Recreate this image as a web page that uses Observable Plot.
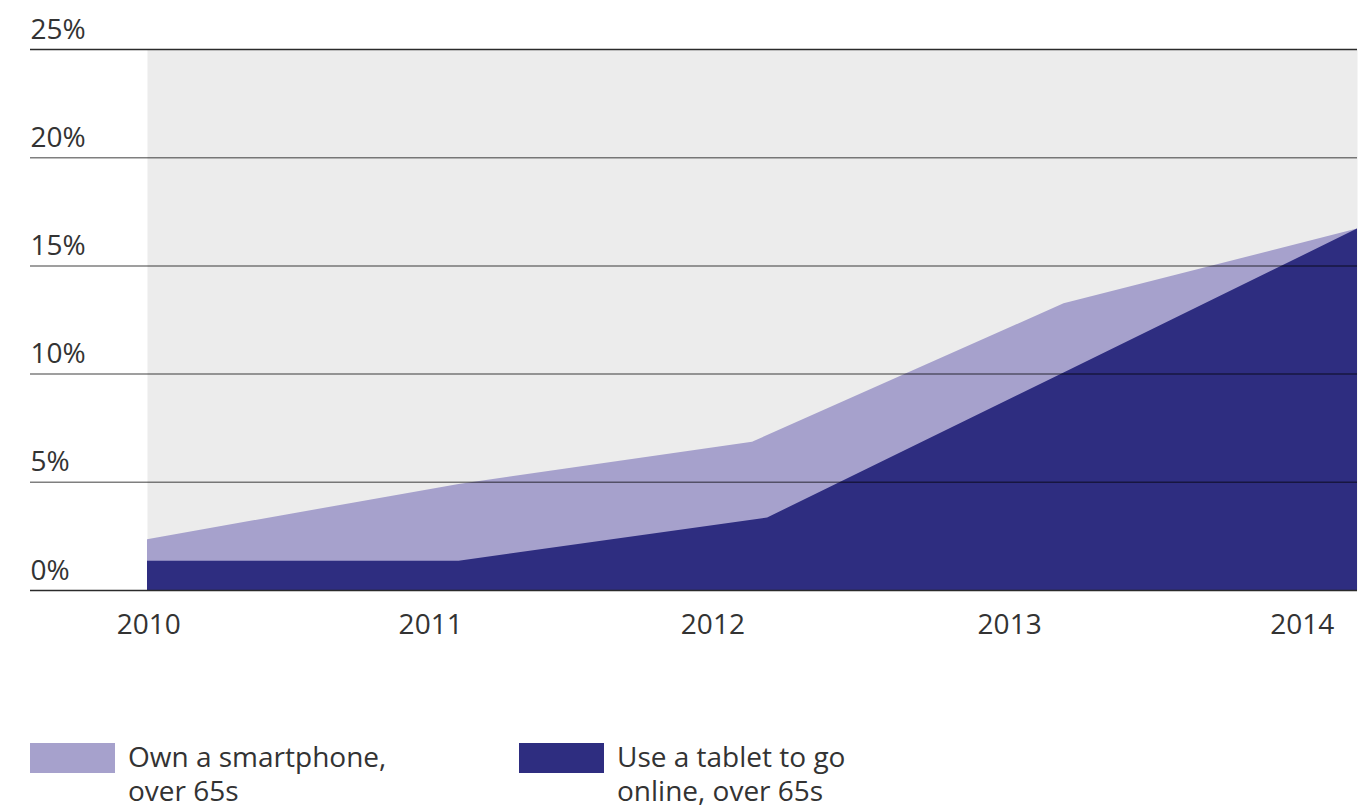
<!DOCTYPE html>
<html>
<head>
<meta charset="utf-8">
<script src="https://cdn.jsdelivr.net/npm/d3@7"></script>
<script src="https://cdn.jsdelivr.net/npm/@observablehq/plot@0.6"></script>
<style>
  html, body { margin: 0; padding: 0; background: #fff; }
  body { width: 1366px; height: 808px; overflow: hidden; font-family: "Open Sans", sans-serif; color: #333; }
  #chart svg { display: block; }
  .legend { display: flex; padding-left: 30px; margin-top: 83px; }
  .item { display: flex; align-items: flex-start; }
  .item1 { width: 489px; }
  .sw { width: 85px; height: 30px; flex: none; }
  .lab { margin-left: 13px; margin-top: -4px; font-size: 28px; line-height: 34px; color: #333; }
  .lab div { white-space: nowrap; }
</style>
</head>
<body>
<div id="chart"></div>
<div class="legend">
  <div class="item item1"><div class="sw" style="background:#a6a1cc"></div><div class="lab"><div>Own a smartphone,</div><div>over 65s</div></div></div>
  <div class="item"><div class="sw" style="background:#2e2d80"></div><div class="lab"><div>Use a tablet to go</div><div>online, over 65s</div></div></div>
</div>
<script>
// Survey points (fractional years, as placed in the picture) and percentages
const smartphoneX = [2010, 2011.03, 2012, 2013.03, 2014];
const smartphoneY = [2.35, 4.9, 6.85, 13.25, 16.7];
const tabletX = [2010, 2011.03, 2012.05, 2013.03, 2014];
const tabletY = [1.35, 1.35, 3.35, 10.05, 16.7];

// Axis ticks
const yTicks = [0, 5, 10, 15, 20, 25];
const yTickLabels = ["0%", "5%", "10%", "15%", "20%", "25%"];
const xTickPos = [2010.004, 2010.936, 2011.869, 2012.85, 2013.817];
const xTickLabels = ["2010", "2011", "2012", "2013", "2014"];

const smartphone = smartphoneX.map((x, i) => ({x, y: smartphoneY[i]}));
const tablet = tabletX.map((x, i) => ({x, y: tabletY[i]}));
const yLab = yTicks.map((v, i) => ({v, t: yTickLabels[i]}));
const midTicks = yTicks.filter(v => v !== 0 && v !== 25);
const endTicks = yTicks.filter(v => v === 0 || v === 25);

const chart = Plot.plot({
  width: 1366,
  height: 660,
  marginLeft: 147,
  marginRight: 9,
  marginTop: 49,
  marginBottom: 70,
  style: {fontFamily: "'Open Sans', sans-serif", color: "#333", background: "transparent"},
  x: {domain: [2010, 2014], axis: null, label: null},
  y: {domain: [0, 25], axis: null, label: null},
  marks: [
    Plot.frame({fill: "#ececec", stroke: null}),
    Plot.areaY(smartphone, {x: "x", y: "y", fill: "#a6a1cc"}),
    Plot.areaY(tablet, {x: "x", y: "y", fill: "#2e2d80"}),
    Plot.ruleY(midTicks, {stroke: "#000", strokeOpacity: 0.5, strokeWidth: 1.5, insetLeft: -117}),
    Plot.ruleY(endTicks, {stroke: "#2b2b2b", strokeWidth: 1.5, insetLeft: -117}),
    Plot.text(yLab, {y: "v", text: "t", frameAnchor: "left", textAnchor: "start", lineAnchor: "bottom", dx: -117, dy: -11, fontSize: 28, fill: "#333"}),
    Plot.axisX({ticks: xTickPos, tickFormat: d => xTickLabels[xTickPos.indexOf(d)], tickSize: 0, tickPadding: 24, fontSize: 28, fill: "#333", label: null})
  ]
});
document.getElementById("chart").appendChild(chart);
</script>
</body>
</html>
